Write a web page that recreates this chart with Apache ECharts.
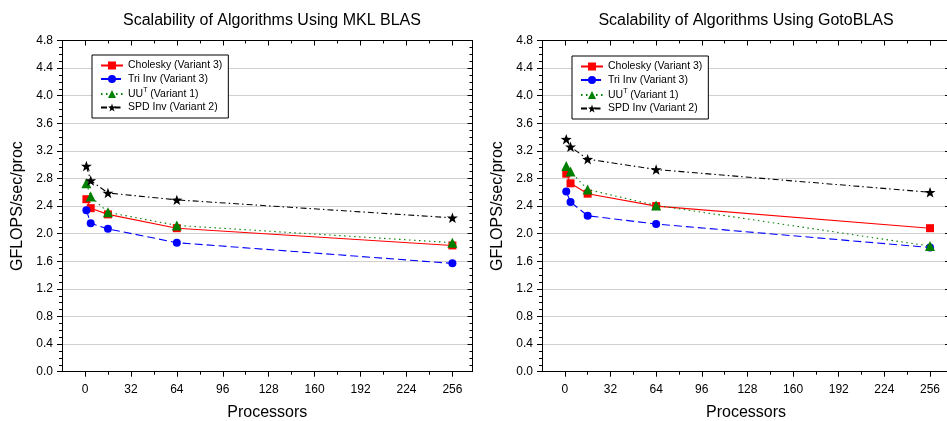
<!DOCTYPE html>
<html>
<head>
<meta charset="utf-8">
<script src="https://cdn.jsdelivr.net/npm/echarts@6/dist/echarts.min.js"></script>
<style>
html,body{margin:0;padding:0;background:#fff;}
#chart{width:947px;height:421px;}
</style>
</head>
<body>
<div id="chart"></div>
<script>
// ---- data ----
const processors = [1, 4, 16, 64, 256];
const seriesNames = ['Cholesky (Variant 3)', 'Tri Inv (Variant 3)', 'UU^T (Variant 1)', 'SPD Inv (Variant 2)'];
const mklCholesky = [2.50, 2.37, 2.28, 2.08, 1.83];
const mklTriInv   = [2.34, 2.15, 2.07, 1.87, 1.57];
const mklUUT      = [2.73, 2.54, 2.31, 2.12, 1.87];
const mklSPDInv   = [2.98, 2.77, 2.59, 2.49, 2.23];
const gotoCholesky = [2.87, 2.73, 2.58, 2.40, 2.08];
const gotoTriInv   = [2.61, 2.46, 2.26, 2.14, 1.80];
const gotoUUT      = [2.98, 2.90, 2.64, 2.41, 1.82];
const gotoSPDInv   = [3.37, 3.26, 3.08, 2.93, 2.60];
const xMajorTicks = [0, 32, 64, 96, 128, 160, 192, 224, 256];
const xMinorTicks = [16, 48, 80, 112, 144, 176, 208, 240];
const titles = ['Scalability of Algorithms Using MKL BLAS', 'Scalability of Algorithms Using GotoBLAS'];
const xAxisName = 'Processors';
const yAxisName = 'GFLOPS/sec/proc';

// ---- styling ----
const FONT = '"Liberation Sans", Arial, sans-serif';
const STAR = 'path://M0,-10 L2.35,-3.24 9.51,-3.09 3.8,1.24 5.88,8.09 0,4 -5.88,8.09 -3.8,1.24 -9.51,-3.09 -2.35,-3.24 Z';
const styles = [
  {color: '#ff0000', type: 'solid', symbol: 'rect', size: 8},
  {color: '#0000ff', type: [8, 4], symbol: 'circle', size: 8},
  {color: '#008000', type: [1.5, 3.5], symbol: 'triangle', size: 10},
  {color: '#000000', type: [6, 3, 1.5, 3], symbol: STAR, size: 11}
];
const grids = [
  {left: 62, top: 40.5, width: 410.5, height: 331.2, outerBoundsMode: 'none', containLabel: false},
  {left: 542, top: 40.5, width: 408, height: 331.2, outerBoundsMode: 'none', containLabel: false}
];
const legendPos = [{left: 92, top: 55}, {left: 572, top: 56}];
const panels = [
  [mklCholesky, mklTriInv, mklUUT, mklSPDInv],
  [gotoCholesky, gotoTriInv, gotoUUT, gotoSPDInv]
];

const xAxes = [], yAxes = [], series = [], title = [], legend = [];
const X_MIN = -16, X_MAX = 270;
const titleCenters = [267, 741];
grids.forEach((g, gi) => {
  const base = {type: 'value', gridIndex: gi, min: X_MIN, max: X_MAX, splitLine: {show: false}};
  // main bottom axis
  xAxes.push(Object.assign({}, base, {
    position: 'bottom',
    axisLine: {show: true, onZero: false, lineStyle: {color: '#000', width: 1}},
    axisTick: {show: true, customValues: xMajorTicks, length: 5, lineStyle: {color: '#000'}},
    axisLabel: {show: true, customValues: xMajorTicks, margin: 12, color: '#000', fontSize: 12, fontFamily: FONT},
    name: xAxisName, nameLocation: 'middle', nameGap: 33,
    nameTextStyle: {fontSize: 16, color: '#000', fontFamily: FONT}
  }));
  // minor ticks bottom
  xAxes.push(Object.assign({}, base, {
    position: 'bottom',
    axisLine: {show: false, onZero: false},
    axisTick: {show: true, customValues: xMinorTicks, length: 3, lineStyle: {color: '#000'}},
    axisLabel: {show: false}
  }));
  // top mirror major
  xAxes.push(Object.assign({}, base, {
    position: 'top',
    axisLine: {show: true, onZero: false, lineStyle: {color: '#000', width: 1}},
    axisTick: {show: true, inside: true, customValues: xMajorTicks, length: 5, lineStyle: {color: '#000'}},
    axisLabel: {show: false}
  }));
  // top mirror minor
  xAxes.push(Object.assign({}, base, {
    position: 'top',
    axisLine: {show: false, onZero: false},
    axisTick: {show: true, inside: true, customValues: xMinorTicks, length: 3, lineStyle: {color: '#000'}},
    axisLabel: {show: false}
  }));
  const ybase = {type: 'value', gridIndex: gi, min: 0, max: 4.8, interval: 0.4};
  yAxes.push(Object.assign({}, ybase, {
    position: 'left',
    axisLine: {show: true, onZero: false, lineStyle: {color: '#000', width: 1}},
    axisTick: {show: true, length: 5, lineStyle: {color: '#000'}},
    minorTick: {show: true, splitNumber: 4, length: 3, lineStyle: {color: '#000'}},
    splitLine: {show: true, lineStyle: {color: '#cfcfcf', width: 1}},
    axisLabel: {color: '#000', fontSize: 12, fontFamily: FONT, margin: 9, formatter: v => v.toFixed(1)},
    name: yAxisName, nameLocation: 'middle', nameGap: 36,
    nameTextStyle: {fontSize: 16, color: '#000', fontFamily: FONT}
  }));
  yAxes.push(Object.assign({}, ybase, {
    position: 'right',
    axisLine: {show: true, onZero: false, lineStyle: {color: '#000', width: 1}},
    axisTick: {show: true, inside: true, length: 5, lineStyle: {color: '#000'}},
    minorTick: {show: true, splitNumber: 4, length: 3, lineStyle: {color: '#000'}},
    splitLine: {show: false},
    axisLabel: {show: false}
  }));
  title.push({
    text: titles[gi], left: titleCenters[gi], top: 8, textAlign: 'center',
    textStyle: {fontSize: 16, fontWeight: 'normal', color: '#000', fontFamily: FONT}
  });
  legend.push({
    data: seriesNames, orient: 'vertical', left: legendPos[gi].left, top: legendPos[gi].top,
    itemWidth: 22, itemHeight: 10, itemGap: 2.5, padding: [5, 6, 5, 8],
    borderColor: '#000', borderWidth: 1, borderRadius: 0, backgroundColor: '#fff',
    selectedMode: false,
    formatter: name => name.indexOf('^T') >= 0
      ? '{a|' + name.split('^T')[0] + '}{sup|T}{a|' + name.split('^T')[1] + '}'
      : '{a|' + name + '}',
    textStyle: {
      color: '#000', fontFamily: FONT, fontSize: 10.5,
      rich: {
        a: {fontSize: 10.5, lineHeight: 14, color: '#000', fontFamily: FONT},
        sup: {fontSize: 7, lineHeight: 8, verticalAlign: 'top', color: '#000', fontFamily: FONT}
      }
    }
  });
  panels[gi].forEach((vals, si) => {
    const st = styles[si];
    series.push({
      name: seriesNames[si], type: 'line',
      xAxisIndex: gi * 4, yAxisIndex: gi * 2,
      data: processors.map((p, i) => [p, vals[i]]),
      symbol: st.symbol, symbolSize: st.size, symbolKeepAspect: true, showSymbol: true,
      lineStyle: {color: st.color, width: 1.1, type: st.type},
      itemStyle: {color: st.color, borderWidth: 0},
      emphasis: {disabled: true},
      z: 2 + si
    });
  });
});

const chart = echarts.init(document.getElementById('chart'), null, {renderer: 'canvas'});
chart.setOption({
  animation: false,
  backgroundColor: '#fff',
  title: title, legend: legend,
  grid: grids, xAxis: xAxes, yAxis: yAxes, series: series
});
</script>
</body>
</html>
